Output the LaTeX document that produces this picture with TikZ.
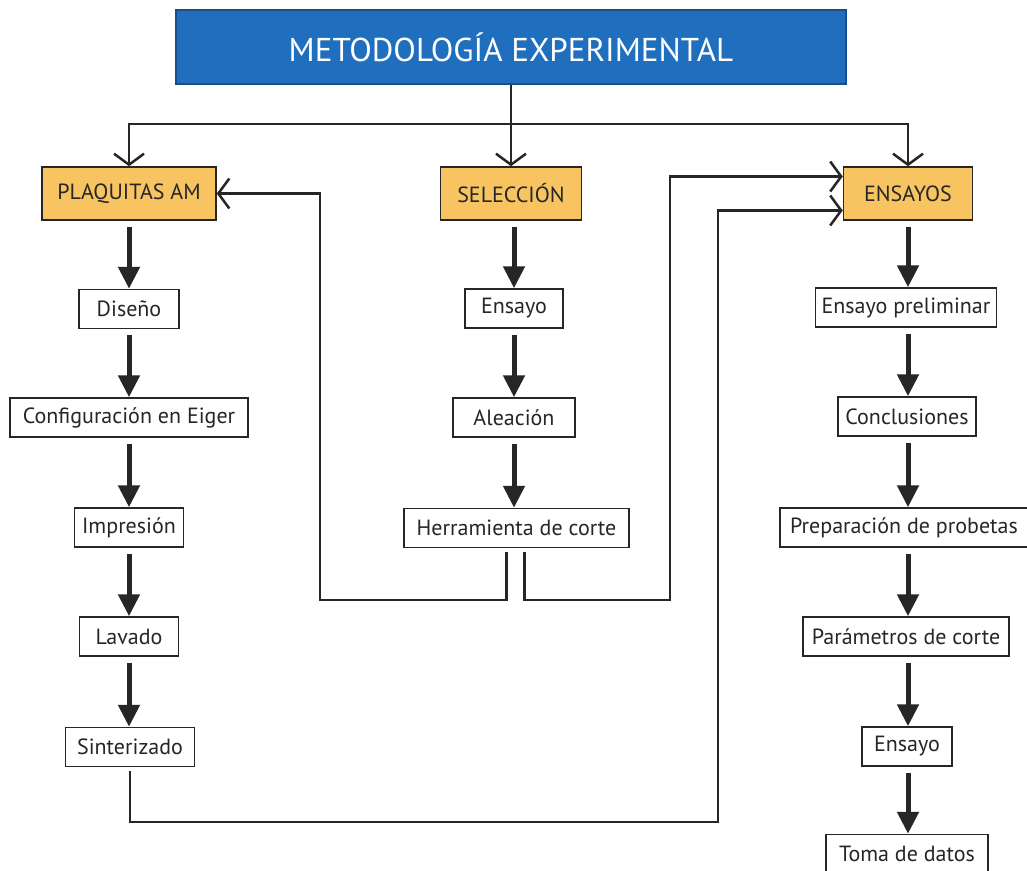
\documentclass[tikz,border=0pt]{standalone}
\usepackage{fontspec}
\setmainfont{PT Sans}
\usetikzlibrary{arrows.meta}
\definecolor{titleblue}{HTML}{1F6FBE}
\definecolor{titleedge}{HTML}{1B4E86}
\definecolor{orangebox}{HTML}{F8C462}
\definecolor{ink}{HTML}{262626}
\tikzset{
  box/.style={draw=ink, line width=1.5pt, fill=white, inner sep=0pt,
    minimum height=39pt, text=ink, font=\fontsize{22}{22}\selectfont},
  headbox/.style={box, fill=orangebox, minimum height=53pt},
  flow/.style={draw=ink, line width=5pt, shorten <=6pt,
    -{Triangle[length=22pt,width=21pt]}},
  link/.style={draw=ink, line width=2.5pt},
  barb/.style={-{Straight Barb[length=11pt,width=30pt]}}
}
\begin{document}
\begin{tikzpicture}[x=1pt,y=-1pt]
\useasboundingbox (0,0) rectangle (1027,870);
\fill[white] (0,0) rectangle (1027,870);

% title
\node[draw=titleedge, line width=1.2pt, fill=titleblue, text=white,
  minimum width=670pt, minimum height=74pt, inner sep=0pt,
  font=\fontsize{33}{33}\selectfont] (title) at (511,47) {METODOLOGÍA EXPERIMENTAL};

% branch heads
\node[headbox, minimum width=174pt] (plaq) at (129,193.5) {PLAQUITAS AM};
\node[headbox, minimum width=141pt] (sel)  at (511,193.5) {SELECCIÓN};
\node[headbox, minimum width=129pt] (ens)  at (908,193.5) {ENSAYOS};

% left column
\node[box, minimum width=100pt] (dis)  at (129,309) {Diseño};
\node[box, minimum width=238pt] (conf) at (129,417.5) {Configuración en Eiger};
\node[box, minimum width=109pt] (imp)  at (129,527.5) {Impresión};
\node[box, minimum width=99pt]  (lav)  at (129,636.5) {Lavado};
\node[box, minimum width=129pt] (sint) at (130,747) {Sinterizado};

% middle column
\node[box, minimum width=98pt]  (ensa) at (514,308.5) {Ensayo};
\node[box, minimum width=122pt] (ale)  at (514,417.5) {Aleación};
\node[box, minimum width=225pt] (herr) at (516.5,528) {Herramienta de corte};

% right column
\node[box, minimum width=181pt] (pre)  at (906,307.5) {Ensayo preliminar};
\node[box, minimum width=138pt] (conc) at (907,416.5) {Conclusiones};
\node[box, minimum width=248pt] (prep) at (904,527.5) {Preparación de probetas};
\node[box, minimum width=206pt] (par)  at (906,636.5) {Parámetros de corte};
\node[box, minimum width=90pt]  (ens2) at (907,746.5) {Ensayo};
\node[box, minimum width=162pt] (toma) at (907,854) {Toma de datos};

% distribution from the title
\coordinate (bus) at (511,124);
\draw[link, barb] (title.south) -- (sel.north);
\draw[link, barb] (bus) -| (plaq.north);
\draw[link, barb] (bus) -| (ens.north);

% sequential steps, kept vertical on each column axis
\draw[flow] (plaq.south) -- (plaq.south |- dis.north);
\draw[flow] (dis.south)  -- (dis.south |- conf.north);
\draw[flow] (conf.south) -- (conf.south |- imp.north);
\draw[flow] (imp.south)  -- (imp.south |- lav.north);
\draw[flow] (lav.south)  -- (lav.south |- sint.north);

\draw[flow] (ensa.south |- sel.south) -- (ensa.north);
\draw[flow] (ensa.south) -- (ale.north);
\draw[flow] (ale.south)  -- (ale.south |- herr.north);

\draw[flow] (ens.south)  -- (ens.south |- pre.north);
\draw[flow] (ens.south |- pre.south)  -- (ens.south |- conc.north);
\draw[flow] (ens.south |- conc.south) -- (ens.south |- prep.north);
\draw[flow] (ens.south |- prep.south) -- (ens.south |- par.north);
\draw[flow] (ens.south |- par.south)  -- (ens.south |- ens2.north);
\draw[flow] (ens.south |- ens2.south) -- (ens.south |- toma.north);

% feedback loops
\draw[link, barb, shorten <=4pt] ([xshift=-10pt]herr.south) |- (320,600) |- (plaq.east);
\draw[link, barb, shorten <=4pt] ([xshift=8pt]herr.south) |- (670,600) |- ([yshift=17pt]ens.west);
\draw[link, barb, shorten <=4pt] (sint.south) |- (718,822) |- ([yshift=-17pt]ens.west);
\end{tikzpicture}
\end{document}
